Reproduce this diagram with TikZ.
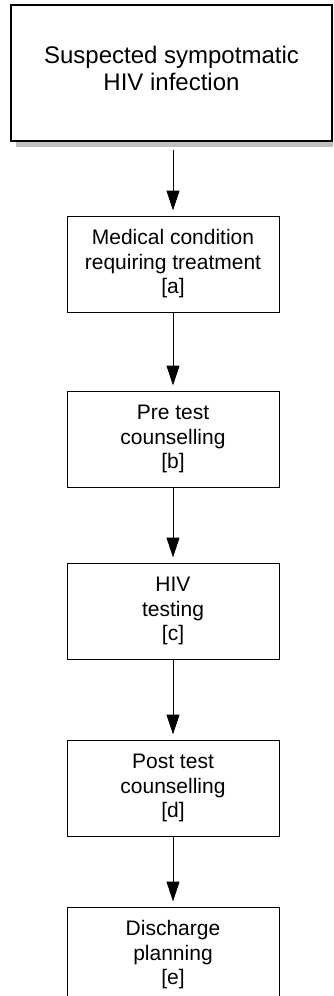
\documentclass[tikz,border=0pt]{standalone}
\usepackage{fontspec}
\setmainfont{Liberation Sans}
\usetikzlibrary{positioning,arrows.meta,shadows}

\begin{document}
\begin{tikzpicture}[
                x = 1pt, y = -1pt,
                every node/.append style = {align = center},
                stage/.style = {draw, line width = 1pt, minimum width = 212pt, minimum height = 96pt,
                    inner sep = 0pt, font = \fontsize{21}{24.5}\selectfont},
                flow/.style = {-{Triangle[length = 20pt, width = 13pt]}, line width = 1pt, shorten >= 5pt}]
            \clip (0,0) rectangle (333,996);
            \node[draw, line width = 1.8pt, fill = white, minimum width = 321pt, minimum height = 136pt,
                text depth = 10pt, font = \fontsize{24}{27}\selectfont,
                drop shadow = {shadow xshift = 5pt, shadow yshift = -6pt, fill = black!25, opacity = 1}]
                (suspect) at (171.5,73) {Suspected sympotmatic\\HIV infection};
            \node[stage] (cond) at (173,264) {Medical condition\\requiring treatment\\{[a]}};
            \node[stage, below = 78pt of cond] (pretest) {Pre test\\counselling\\{[b]}};
            \node[stage, below = 75pt of pretest] (hivtest) {HIV\\testing\\{[c]}};
            \node[stage, below = 80pt of hivtest] (posttest) {Post test\\counselling\\{[d]}};
            \node[stage, below = 70pt of posttest] (discharge) {Discharge\\planning\\{[e]}};
            \draw[flow, shorten <= 8pt] (cond.north |- suspect.south) -- (cond.north);
            \draw[flow] (cond) -- (pretest);
            \draw[flow] (pretest) -- (hivtest);
            \draw[flow] (hivtest) -- (posttest);
            \draw[flow] (posttest) -- (discharge);
            \end{tikzpicture}
\end{document}
